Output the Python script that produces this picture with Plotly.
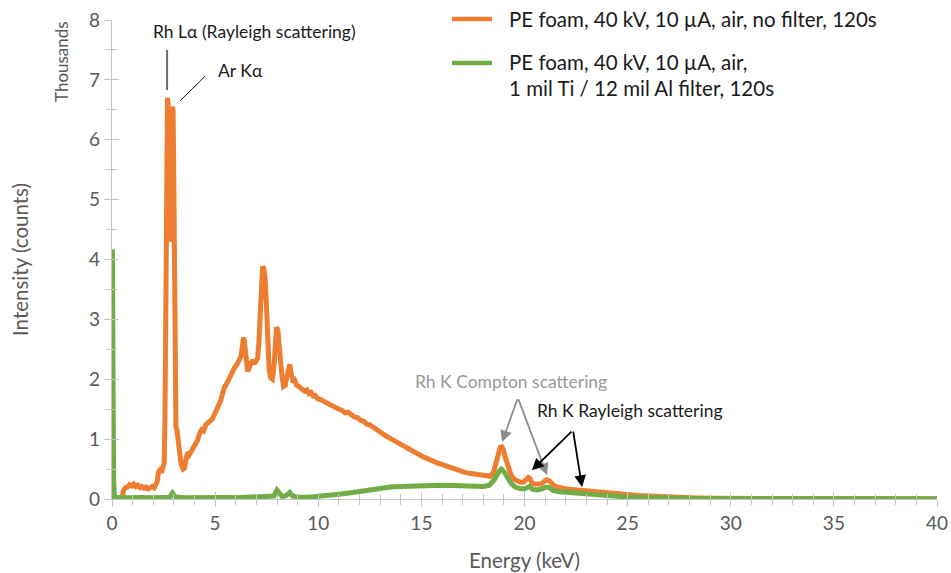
import plotly.graph_objects as go

# Spectrum without filter (energy in keV, intensity in thousands of counts)
energy_nofilter = [
    0.0, 0.5, 0.55, 0.65, 0.75, 0.85, 0.95, 1.05, 1.15, 1.25, 1.35, 1.45, 1.55, 1.65,
    1.75, 1.85, 1.95, 2.05, 2.12, 2.2, 2.25, 2.32, 2.4, 2.47, 2.53, 2.57, 2.62, 2.66,
    2.69, 2.72, 2.76, 2.8, 2.83, 2.86, 2.9, 2.93, 2.96, 2.99, 3.02, 3.06, 3.1, 3.15,
    3.2, 3.27, 3.35, 3.45, 3.52, 3.6, 3.68, 3.75, 3.85, 3.95, 4.05, 4.15, 4.25, 4.35,
    4.45, 4.55, 4.65, 4.75, 4.85, 4.95, 5.05, 5.15, 5.25, 5.35, 5.45, 5.55, 5.65, 5.75,
    5.85, 5.95, 6.05, 6.15, 6.25, 6.32, 6.38, 6.43, 6.5, 6.58, 6.66, 6.74, 6.82, 6.9,
    6.98, 7.06, 7.12, 7.18, 7.24, 7.3, 7.36, 7.42, 7.48, 7.55, 7.62, 7.7, 7.78, 7.85,
    7.92, 7.98, 8.04, 8.1, 8.16, 8.24, 8.32, 8.4, 8.48, 8.56, 8.62, 8.7, 8.78, 8.86,
    8.95, 9.05, 9.15, 9.25, 9.35, 9.45, 9.55, 9.65, 9.75, 9.85, 9.95, 10.1, 10.25, 10.4,
    10.55, 10.7, 10.85, 11.0, 11.15, 11.3, 11.45, 11.6, 11.75, 11.9, 12.05, 12.2, 12.35,
    12.5, 12.65, 12.8, 12.95, 13.1, 13.25, 13.4, 13.55, 13.7, 13.85, 14.0, 14.15, 14.3,
    14.45, 14.6, 14.75, 14.9, 15.05, 15.2, 15.35, 15.5, 15.65, 15.8, 15.95, 16.1, 16.25,
    16.4, 16.55, 16.7, 16.85, 17.0, 17.15, 17.3, 17.45, 17.6, 17.75, 17.9, 18.05, 18.2,
    18.35, 18.5, 18.62, 18.72, 18.82, 18.9, 18.98, 19.08, 19.2, 19.35, 19.5, 19.65, 19.8,
    19.95, 20.08, 20.18, 20.26, 20.36, 20.5, 20.65, 20.8, 20.95, 21.08, 21.18, 21.3,
    21.45, 21.6, 21.8, 22.0, 22.3, 22.6, 23.0, 23.5, 24.0, 24.5, 25.0, 25.5, 26.0, 26.5,
    27.0, 27.5, 28.0, 29.0, 30.0, 32.0, 35.0, 40.0,
]
counts_nofilter = [
    0.0, 0.0, 0.14, 0.19, 0.2, 0.24, 0.22, 0.25, 0.21, 0.23, 0.19, 0.21, 0.18, 0.2,
    0.17, 0.2, 0.21, 0.19, 0.24, 0.3, 0.45, 0.48, 0.44, 0.52, 0.6, 1.4, 4.5, 6.4,
    6.7, 6.6, 6.2, 5.0, 4.3, 4.6, 6.4, 6.55, 6.5, 5.6, 3.5, 1.6, 1.2, 1.15,
    0.95, 0.7, 0.58, 0.5, 0.52, 0.7, 0.78, 0.74, 0.82, 0.86, 0.92, 0.98, 1.1, 1.16,
    1.14, 1.24, 1.27, 1.3, 1.33, 1.4, 1.5, 1.55, 1.62, 1.78, 1.87, 1.92, 2.0, 2.08,
    2.12, 2.2, 2.24, 2.3, 2.38, 2.55, 2.7, 2.6, 2.3, 2.13, 2.2, 2.28, 2.32, 2.26,
    2.3, 2.35, 2.6, 3.2, 3.7, 3.88, 3.85, 3.7, 3.3, 2.6, 2.15, 2.02, 2.0, 2.2,
    2.6, 2.87, 2.82, 2.5, 2.25, 2.05, 1.88, 1.9, 2.05, 2.2, 2.25, 2.08, 1.95, 1.98,
    1.9, 1.88, 1.85, 1.83, 1.8, 1.82, 1.76, 1.78, 1.72, 1.73, 1.68, 1.66, 1.63, 1.6,
    1.58, 1.55, 1.52, 1.5, 1.48, 1.44, 1.45, 1.4, 1.37, 1.36, 1.31, 1.3, 1.25,
    1.24, 1.2, 1.16, 1.12, 1.1, 1.06, 1.03, 1.0, 0.96, 0.94, 0.9, 0.88, 0.84,
    0.82, 0.79, 0.76, 0.73, 0.71, 0.69, 0.66, 0.64, 0.62, 0.6, 0.58, 0.56, 0.54,
    0.52, 0.5, 0.49, 0.47, 0.46, 0.44, 0.43, 0.42, 0.41, 0.4, 0.39, 0.38, 0.37,
    0.38, 0.45, 0.6, 0.76, 0.86, 0.87, 0.82, 0.68, 0.52, 0.4, 0.33, 0.3, 0.28,
    0.28, 0.32, 0.36, 0.34, 0.27, 0.25, 0.24, 0.25, 0.29, 0.32, 0.31, 0.26,
    0.22, 0.2, 0.18, 0.17, 0.16, 0.15, 0.13, 0.11, 0.1, 0.085, 0.07, 0.06, 0.05, 0.04,
    0.035, 0.025, 0.02, 0.012, 0.01, 0.008, 0.006, 0.005,
]

# Spectrum with the Ti/Al filter
energy_filter = [
    0.0, 0.02, 0.05, 0.08, 0.12, 0.5, 1.0, 1.5, 2.0, 2.5, 2.8, 2.93, 3.05, 3.5, 4.0,
    4.5, 5.0, 5.5, 6.0, 6.5, 7.0, 7.5, 7.85, 8.0, 8.1, 8.25, 8.45, 8.62, 8.75, 9.0,
    9.5, 10.0, 10.5, 11.0, 11.5, 12.0, 12.5, 13.0, 13.5, 14.0, 14.5, 15.0, 15.5, 16.0,
    16.5, 17.0, 17.5, 18.0, 18.3, 18.55, 18.75, 18.88, 19.0, 19.15, 19.35, 19.55, 19.8,
    20.0, 20.15, 20.25, 20.4, 20.6, 20.85, 21.05, 21.2, 21.4, 21.7, 22.0, 22.5, 23.0,
    23.5, 24.0, 24.5, 25.0, 25.5, 26.0, 27.0, 28.0, 30.0, 40.0,
]
counts_filter = [
    0.0, 4.17, 2.0, 0.3, 0.03, 0.02, 0.03, 0.025, 0.02, 0.025, 0.03, 0.1, 0.04, 0.02, 0.025,
    0.03, 0.02, 0.025, 0.02, 0.03, 0.025, 0.03, 0.05, 0.15, 0.1, 0.04, 0.06, 0.11, 0.05, 0.03,
    0.03, 0.04, 0.06, 0.08, 0.1, 0.13, 0.16, 0.19, 0.2, 0.21, 0.22, 0.23, 0.23, 0.23,
    0.225, 0.22, 0.21, 0.21, 0.23, 0.33, 0.45, 0.5, 0.46, 0.36, 0.26, 0.2, 0.17,
    0.17, 0.2, 0.21, 0.16, 0.15, 0.17, 0.2, 0.19, 0.14, 0.12, 0.11, 0.09, 0.08,
    0.065, 0.055, 0.045, 0.035, 0.03, 0.02, 0.012, 0.008, 0.005, 0.005,
]

name_nofilter = "PE foam, 40 kV, 10 µA, air, no filter, 120s"
name_filter = ["PE foam, 40 kV, 10 µA, air,", "1 mil Ti / 12 mil Al filter, 120s"]

ORANGE = "#ED7D31"
GREEN = "#70AD47"
AXIS_GREY = "#c6c6c6"
TEXT_GREY = "#595959"
FONT = "Lato, 'Open Sans', sans-serif"

# plot-area geometry in pixels (used for the hand-drawn legend)
L, R, T, B = 112, 937, 20, 499


def paper(xp, yp):
    return (xp - L) / (R - L), (B - yp) / (B - T)


fig = go.Figure()
fig.add_trace(go.Scatter(x=energy_nofilter, y=counts_nofilter, mode="lines",
                         line=dict(color=ORANGE, width=5), name=name_nofilter,
                         showlegend=False))
fig.add_trace(go.Scatter(x=energy_filter, y=counts_filter, mode="lines",
                         line=dict(color=GREEN, width=5), name=" ".join(name_filter),
                         showlegend=False))
# empty trace carrying the overlay axes that draw the inner half of the ticks
fig.add_trace(go.Scatter(x=[], y=[], xaxis="x2", yaxis="y2", showlegend=False,
                         hoverinfo="skip"))

tick_common = dict(showgrid=False, zeroline=False)
fig.update_layout(
    width=951, height=573,
    margin=dict(l=L, r=951 - R, t=T, b=573 - B),
    paper_bgcolor="white", plot_bgcolor="white",
    font=dict(family=FONT, color=TEXT_GREY, size=19),
    xaxis=dict(range=[0, 40], dtick=5, tick0=0, showline=True, linecolor=AXIS_GREY,
               linewidth=1.2, ticks="outside", ticklen=7, tickcolor=AXIS_GREY, tickwidth=1.2,
               minor=dict(dtick=1, ticks="outside", ticklen=5, tickcolor=AXIS_GREY, tickwidth=1),
               tickfont=dict(size=19, color=TEXT_GREY),
               title=dict(text="Energy (keV)", font=dict(size=20.5, color=TEXT_GREY), standoff=20),
               automargin=False, **tick_common),
    yaxis=dict(range=[0, 8], dtick=1, tick0=0, showline=True, linecolor=AXIS_GREY,
               linewidth=1.2, ticks="outside", ticklen=7, tickcolor=AXIS_GREY, tickwidth=1.2,
               minor=dict(dtick=0.5, ticks="outside", ticklen=5, tickcolor=AXIS_GREY, tickwidth=1),
               tickfont=dict(size=19, color=TEXT_GREY),
               title=dict(text="Intensity (counts)", font=dict(size=20.5, color=TEXT_GREY), standoff=54),
               automargin=False, **tick_common),
    xaxis2=dict(range=[0, 40], dtick=5, tick0=0, overlaying="x", anchor="y2", showline=False,
                ticks="inside", ticklen=7, tickcolor=AXIS_GREY, tickwidth=1.2,
                minor=dict(dtick=1, ticks="inside", ticklen=5, tickcolor=AXIS_GREY, tickwidth=1),
                showticklabels=False, automargin=False, **tick_common),
    yaxis2=dict(range=[0, 8], dtick=1, tick0=0, overlaying="y", anchor="x2", side="left",
                showline=False, ticks="inside", ticklen=7, tickcolor=AXIS_GREY, tickwidth=1.2,
                minor=dict(dtick=0.5, ticks="inside", ticklen=5, tickcolor=AXIS_GREY, tickwidth=1),
                showticklabels=False, automargin=False, **tick_common),
    showlegend=False,
)

# "Thousands" display-unit label
fig.add_annotation(text="Thousands", xref="paper", yref="paper", x=paper(62, 0)[0],
                   y=paper(0, 62)[1], xanchor="center", yanchor="middle", showarrow=False,
                   textangle=-90, font=dict(size=17, color=TEXT_GREY, family=FONT))

# Legend drawn by hand: line samples plus text
for yp, color in [(19, ORANGE), (63, GREEN)]:
    x0, y0 = paper(452, yp)
    x1, _ = paper(492, yp)
    fig.add_shape(type="line", xref="paper", yref="paper", x0=x0, x1=x1, y0=y0, y1=y0,
                  line=dict(color=color, width=4.5))
for text, yp in [(name_nofilter, 19), (name_filter[0], 62), (name_filter[1], 88)]:
    xq, yq = paper(507, yp)
    fig.add_annotation(text=text, xref="paper", yref="paper", x=xq, y=yq, xanchor="left",
                       yanchor="middle", showarrow=False,
                       font=dict(size=20.5, color="#1a1a1a", family=FONT))

# Peak labels
LBL = dict(size=17.5, family=FONT)
fig.add_annotation(text="Rh Lα (Rayleigh scattering)", x=6.93, y=7.8, showarrow=False,
                   font=dict(color="#1a1a1a", **LBL))
fig.add_shape(type="line", x0=2.67, x1=2.67, y0=7.5, y1=6.83, line=dict(color="#6e6e6e", width=2))
fig.add_annotation(text="Ar Kα", x=5.04, y=7.15, xanchor="left", showarrow=False,
                   font=dict(color="#1a1a1a", **LBL))
fig.add_shape(type="line", x0=4.51, y0=7.06, x1=3.30, y1=6.65, line=dict(color="#1a1a1a", width=1))

fig.add_annotation(text="Rh K Compton scattering", x=19.35, y=1.97, showarrow=False,
                   font=dict(color="#999999", **LBL))
fig.add_annotation(text="Rh K Rayleigh scattering", x=25.1, y=1.47, showarrow=False,
                   font=dict(color="#1a1a1a", **LBL))

# Arrows pointing to the Rh K scatter peaks
arrows = [
    ((18.91, 0.95), (19.68, 1.69), "#8c8c8c"),
    ((21.09, 0.40), (19.68, 1.69), "#8c8c8c"),
    ((20.36, 0.48), (22.35, 1.15), "#000000"),
    ((22.79, 0.20), (22.35, 1.15), "#000000"),
]
for (xt, yt), (xs, ys), color in arrows:
    fig.add_annotation(x=xt, y=yt, ax=xs, ay=ys, axref="x", ayref="y", text="",
                       showarrow=True, arrowhead=2, arrowsize=1.3, arrowwidth=1.8,
                       arrowcolor=color)

fig.write_html("out.html")
